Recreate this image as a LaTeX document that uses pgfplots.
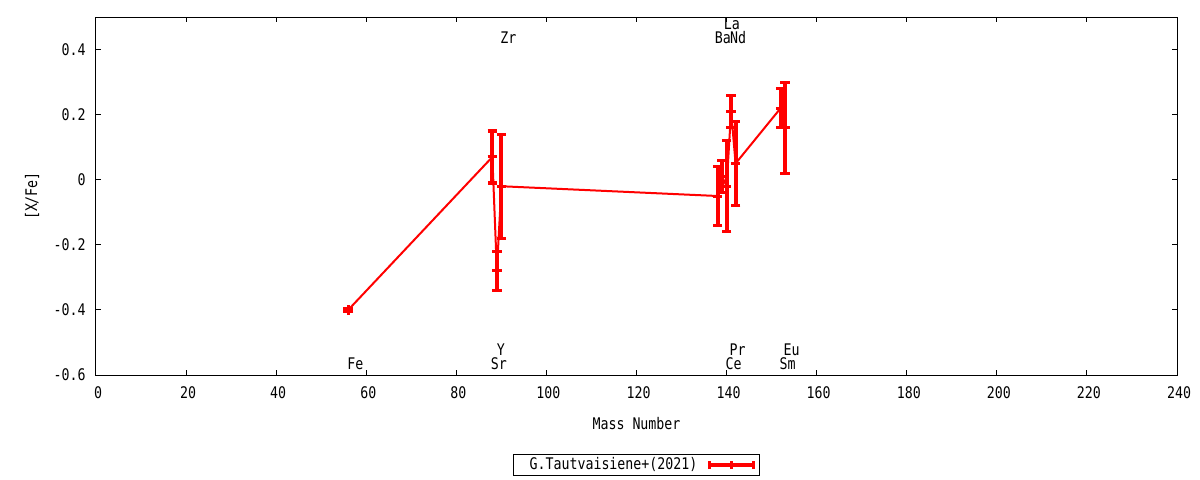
\documentclass[border=0pt]{standalone}
\usepackage{fontspec}
\setmainfont{DejaVu Sans Mono}[FakeStretch=0.83]
\usepackage{pgfplots}
\pgfplotsset{compat=1.18}
\usepackage{pgfplotstable}

\pgfplotstableread{
x y e
56 -0.40 0.005
88 0.07 0.08
89 -0.28 0.06
90 -0.02 0.16
138 -0.05 0.09
139 0.01 0.05
140 -0.02 0.14
141 0.21 0.05
142 0.05 0.13
152 0.22 0.06
153 0.16 0.14
}\datatable

\begin{document}
\begin{tikzpicture}[font=\fontsize{8bp}{9.5bp}\selectfont]
\path[use as bounding box] (-48bp,-52.5bp) rectangle (552bp,187.5bp);
\begin{axis}[
  at={(0,0)}, anchor=south west,
  scale only axis, width=540.5bp, height=179bp,
  xmin=0, xmax=240, ymin=-0.6, ymax=0.5,
  xtick={0,20,40,60,80,100,120,140,160,180,200,220,240},
  xticklabels={0,20,40,60,80,100,120,140,160,180,200,220,240},
  ytick={-0.6,-0.4,-0.2,0,0.2,0.4},
  yticklabels={-0.6,-0.4,-0.2,0,0.2,0.4},
  tick align=inside, major tick length=2.5bp,
  axis line style={line width=0.5bp},
  every tick/.style={black, line width=0.5bp},
  xticklabel style={anchor=center, yshift=-9bp, xshift=1bp, inner sep=0pt},
  yticklabel style={anchor=east, xshift=-5bp, inner sep=0pt},
  xlabel={Mass Number}, ylabel={[X/Fe]},
  xlabel style={at={(axis description cs:0.5,-0.1369)}, anchor=center, inner sep=0pt},
  ylabel style={at={(axis description cs:-0.0592,0.5)}, anchor=center, inner sep=0pt},
  legend style={at={(axis description cs:0.5,-0.2514)}, anchor=center,
    draw=black, line width=0.5bp, inner xsep=2bp, inner ysep=0.5bp,
    nodes={inner sep=1bp}},
  legend plot pos=right,
  legend cell align=right,
]
\addplot[red, line width=1bp, mark=+, mark size=2.4bp,
  mark options={line width=1.5bp, solid},
  legend image code/.code={
    \path (0bp,0bp);
    \draw[red, line width=2bp] (4.5bp,0bp) -- (26.5bp,0bp);
    \draw[red, line width=1.75bp] (4.5bp,-2bp) -- (4.5bp,2bp) (15.5bp,-2bp) -- (15.5bp,2bp) (26.5bp,-2bp) -- (26.5bp,2bp);
  },
  error bars/.cd, y dir=both, y explicit,
  error bar style={line width=2bp, red},
  error mark options={rotate=90, line width=1.6bp, mark size=2.4bp, red}]
  table[x=x, y=y, y error=e]{\datatable};
\addlegendentry{\hspace{5bp}G.Tautvaisiene+(2021)}

\node[anchor=base west, inner sep=0pt] at (axis cs:55.7,-0.584) {Fe};
\node[anchor=base west, inner sep=0pt] at (axis cs:87.6,-0.584) {Sr};
\node[anchor=base west, inner sep=0pt] at (axis cs:88.9,-0.540) {Y};
\node[anchor=base west, inner sep=0pt] at (axis cs:89.7,0.419) {Zr};
\node[anchor=base west, inner sep=0pt] at (axis cs:137.3,0.419) {Ba};
\node[anchor=base west, inner sep=0pt] at (axis cs:139.3,0.462) {La};
\node[anchor=base west, inner sep=0pt] at (axis cs:140.7,0.419) {Nd};
\node[anchor=base west, inner sep=0pt] at (axis cs:139.7,-0.584) {Ce};
\node[anchor=base west, inner sep=0pt] at (axis cs:140.6,-0.540) {Pr};
\node[anchor=base west, inner sep=0pt] at (axis cs:151.7,-0.584) {Sm};
\node[anchor=base west, inner sep=0pt] at (axis cs:152.6,-0.540) {Eu};
\end{axis}
\end{tikzpicture}
\end{document}
